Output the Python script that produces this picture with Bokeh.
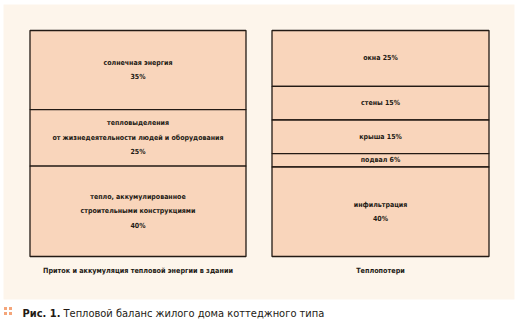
from bokeh.plotting import figure
from bokeh.models import Range1d, ColumnDataSource
from bokeh.core.properties import value
from bokeh.embed import file_html
from bokeh.resources import INLINE

# ---- data ----
gain_labels = ["солнечная энергия", "тепловыделения\nот жизнедеятельности людей и оборудования", "тепло, аккумулированное\nстроительными конструкциями"]
gain_values = [35, 25, 40]
loss_labels = ["окна", "стены", "крыша", "подвал", "инфильтрация"]
loss_values = [25, 15, 15, 6, 40]
column_titles = ["Приток и аккумуляция тепловой энергии в здании", "Теплопотери"]
caption_bold = "Рис. 1."
caption_text = "Тепловой баланс жилого дома коттеджного типа"

FONT = "Liberation Sans Narrow, DejaVu Sans Condensed, Roboto Condensed, Arial Narrow, sans-serif"
FILL = "#f9d5bb"
PANEL = "#fdf5eb"
EDGE = "#231a14"

W, H = 518, 320
# percent axis: 100 at y=30px, 0 at y=256px
ppu = (256 - 30) / 100.0
p = figure(width=W, height=H, output_backend="svg", toolbar_location=None,
           x_range=Range1d(0, W), y_range=Range1d((256 - H) / ppu, 256 / ppu),
           min_border=0, outline_line_color=None)
p.extra_y_ranges = {"px": Range1d(H, 0)}
p.axis.visible = False
p.grid.visible = False
p.background_fill_color = "white"
p.border_fill_color = "white"

# panel background
p.quad(left=[3], right=[514], top=[4], bottom=[299], y_range_name="px",
       fill_color=PANEL, line_color=None)


def stack(labels, values, xc, width, fmt):
    total = float(sum(values))
    tops, bottoms, mids, texts = [], [], [], []
    acc = 100.0
    for lab, v in zip(labels, values):
        h = v / total * 100.0
        tops.append(acc)
        bottoms.append(acc - h)
        mids.append(acc - h / 2)
        texts.append(fmt(lab, v))
        acc -= h
    src = ColumnDataSource(dict(x=[xc] * len(values), top=tops, bottom=bottoms, mid=mids, text=texts))
    p.vbar(x="x", width=width, top="top", bottom="bottom", source=src,
           fill_color=FILL, line_color=EDGE, line_width=1.3)
    p.text(x="x", y="mid", text="text", source=src, text_font=value(FONT),
           text_font_style="bold", text_font_size="7px", text_color="#231a14",
           text_align="center", text_baseline="middle", text_line_height=1.8)


stack(gain_labels, gain_values, 137.5, 216, lambda l, v: f"{l}\n{v}%")
stack(loss_labels, loss_values, 380, 217,
      lambda l, v: f"{l}\n{v}%" if v >= 40 else f"{l} {v}%")

# column titles
p.text(x=[137.5, 380], y=[270, 270], text=column_titles, y_range_name="px",
       text_font=value(FONT), text_font_style="bold", text_font_size="7.2px",
       text_color="#231a14", text_align="center", text_baseline="middle")

# caption
p.scatter(x=[5, 5, 10, 10], y=[308, 313, 308, 313], y_range_name="px",
          marker="square", size=3, fill_color="#f4a57a", line_color=None)
p.text(x=[22], y=[313], text=[caption_bold], y_range_name="px", text_font=value(FONT),
       text_font_style="bold", text_font_size="11px", text_color="#231a14",
       text_align="left", text_baseline="alphabetic")
p.text(x=[63], y=[313], text=[caption_text], y_range_name="px", text_font=value(FONT),
       text_font_size="11px", text_color="#231a14",
       text_align="left", text_baseline="alphabetic")

open("out.html", "w").write(file_html(p, INLINE))
